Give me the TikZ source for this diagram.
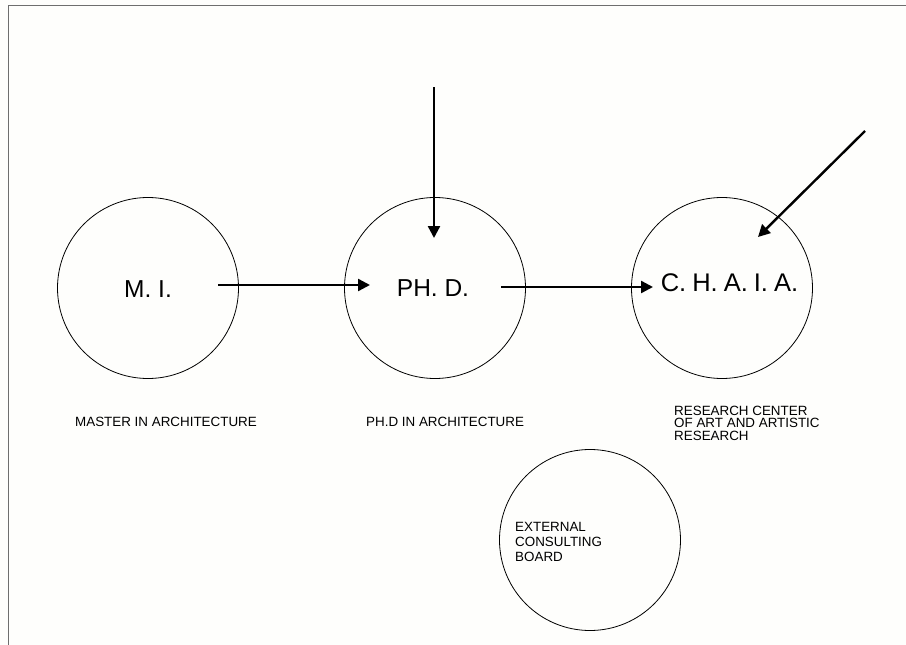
\documentclass[tikz,border=0pt]{standalone}
\usepackage{fontspec}
\setmainfont{Liberation Sans}
\usetikzlibrary{arrows.meta,calc}
\definecolor{paper}{RGB}{254,254,252}
\definecolor{frame}{RGB}{110,110,110}
\tikzset{
  unit/.style={circle,draw=black,line width=0.8pt,minimum size=181pt,inner sep=0pt},
  bigtxt/.style={inner sep=0pt,font=\fontsize{24.5}{28}\selectfont},
  smalltxt/.style={inner sep=0pt,font=\fontsize{13.4}{12.6}\selectfont,align=left},
  flow/.style={line width=2.4pt,-{Triangle[length=12pt,width=12pt]}},
}
\begin{document}
\begin{tikzpicture}[x=1pt,y=-1pt]
\fill[paper] (0,0) rectangle (906,645);
\useasboundingbox (0,0) rectangle (906,645);
\draw[frame,line width=1pt] (906,5) -- (8,5) -- (8,645);

\node[unit] (cmi) at (148,288) {};
\node[unit] (cphd) at (435,288) {};
\node[unit] (cchaia) at (722,288) {};
\node[unit] (cboard) at (590,540) {};

\node[bigtxt] (mi) at (148,289) {M. I.};
\node[bigtxt] (phd) at (433,288) {PH. D.};
\node[bigtxt,font=\fontsize{25.5}{28}\selectfont] (chaia) at (729.5,283) {C.\hspace{6pt}H.\hspace{6pt}A.\hspace{6pt}I.\hspace{6pt}A.};

\node[smalltxt,anchor=west] (lmi) at (75,422) {MASTER IN ARCHITECTURE};
\node[smalltxt,anchor=west] (lphd) at (366,422) {PH.D IN ARCHITECTURE};
\node[smalltxt,anchor=north west] (lchaia) at (674,405.5) {RESEARCH CENTER\\OF ART AND ARTISTIC\\RESEARCH};
\node[smalltxt,anchor=north west,font=\fontsize{13.4}{14.8}\selectfont] (lboard) at (515,522.5) {EXTERNAL\\CONSULTING\\BOARD};

\coordinate (a1) at (218,285);
\coordinate (a1e) at (370,285);
\coordinate (a2) at (501,287);
\coordinate (a2e) at (653,287);
\coordinate (topin) at (434,87);
\coordinate (topend) at (434,238);
\coordinate (diagin) at (865,131);
\coordinate (diagend) at (758,237);

\draw[flow] (a1) -- (a1e);
\draw[flow] (a2) -- (a2e);
\draw[flow] (topin) -- (topend);
\draw[flow] (diagin) -- (diagend);
\end{tikzpicture}
\end{document}
